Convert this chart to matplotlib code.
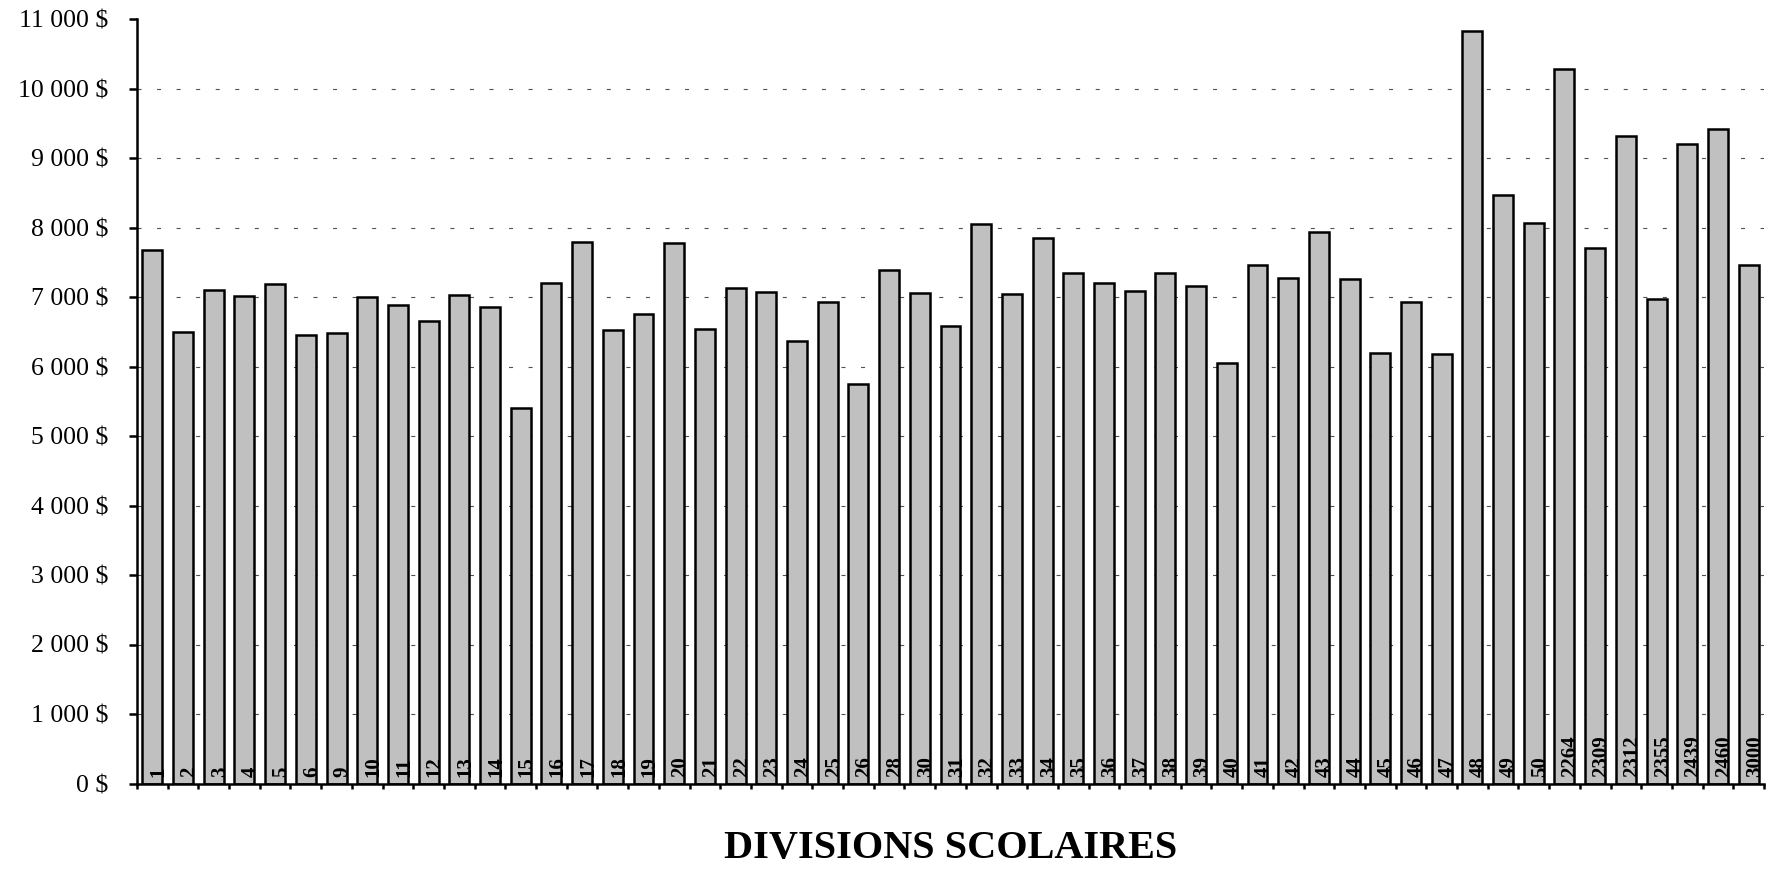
import numpy as np
import matplotlib
matplotlib.use("Agg")
import matplotlib.pyplot as plt

plt.rcParams['font.family'] = ['Liberation Serif', 'DejaVu Serif']

# divisions scolaires (category labels)
divisions = ['1', '2', '3', '4', '5', '6', '9', '10', '11', '12', '13', '14', '15',
             '16', '17', '18', '19', '20', '21', '22', '23', '24', '25', '26', '28',
             '30', '31', '32', '33', '34', '35', '36', '37', '38', '39', '40', '41',
             '42', '43', '44', '45', '46', '47', '48', '49', '50', '2264', '2309',
             '2312', '2355', '2439', '2460', '3000']

# dollars per division
montants = [7670, 6490, 7095, 7010, 7185, 6450, 6485, 7000, 6885, 6650, 7025, 6850, 5405,
            7205, 7790, 6530, 6755, 7780, 6535, 7130, 7070, 6360, 6925, 5745, 7390,
            7060, 6580, 8055, 7045, 7845, 7340, 7200, 7090, 7340, 7155, 6045, 7455,
            7275, 7930, 7260, 6200, 6935, 6175, 10825, 8465, 8070, 10285, 7705,
            9315, 6965, 9200, 9415, 7460]

y_ticks = list(range(0, 11001, 1000))

W, H = 1775, 869
fig = plt.figure(figsize=(W / 100, H / 100), dpi=100)
ax = fig.add_axes([137 / W, 1 - 783.5 / H, (1764 - 137) / W, (783.5 - 19) / H])

x = np.arange(len(divisions))
ax.bar(x, montants, width=0.65, color='#C0C0C0', edgecolor='black', linewidth=1.8, zorder=2)

for i, lab in enumerate(divisions):
    ax.annotate(lab, (x[i] + 0.2, 0), xytext=(0, 5), textcoords='offset points',
                rotation=90, ha='center', va='bottom', fontsize=15, fontweight='bold',
                zorder=3)

# dashed grid (not on the axis line nor the top)
for v in y_ticks[1:-1]:
    ax.axhline(v, color='#505050', linewidth=0.8, linestyle=(0, (3.6, 14.0)), zorder=1)

ax.set_xlim(-0.5, len(divisions) - 0.5)
ax.set_ylim(0, 11000)
ax.set_yticks(y_ticks)
ax.set_yticklabels([f"{v:,}".replace(',', ' ') + ' $' for v in y_ticks])
ax.set_xticks(np.arange(-0.5, len(divisions), 1))
ax.set_xticklabels([])

ax.spines['top'].set_visible(False)
ax.spines['right'].set_visible(False)
for s in ('left', 'bottom'):
    ax.spines[s].set_linewidth(1.8)
    ax.spines[s].set_color('black')

ax.tick_params(axis='y', direction='out', length=5.8, width=1.8, pad=15, labelsize=18.5)
ax.tick_params(axis='x', direction='out', length=3.6, width=1.8)

fig.text((137 + 1764) / 2 / W, 1 - 858 / H, 'DIVISIONS SCOLAIRES', ha='center',
         va='baseline', fontsize=29, fontweight='bold')

fig.savefig('out.png', dpi=100)
